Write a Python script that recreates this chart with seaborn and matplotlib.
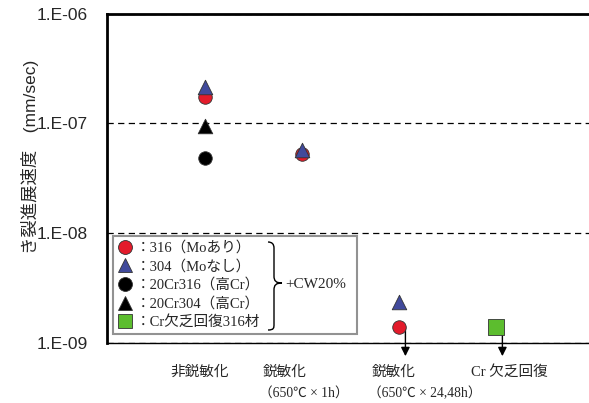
# Crack growth rate of cold-worked stainless steels vs. sensitization condition.
import numpy as np
import pandas as pd
import seaborn as sns
import matplotlib
matplotlib.use('Agg')
import matplotlib.pyplot as plt
from matplotlib.lines import Line2D
from matplotlib.path import Path
from matplotlib.patches import PathPatch
import matplotlib.transforms as mtransforms

sns.set_theme(style="white")
plt.rcParams['font.family'] = ['Liberation Sans', 'Noto Sans CJK JP']

# ---- data ----
categories = ["非鋭敏化", "鋭敏化1h", "鋭敏化24,48h", "Cr欠乏回復"]
label_top = ["非鋭敏化", "鋭敏化", "鋭敏化", "Cr 欠乏回復"]
label_sub = ["", "（650℃ × 1h）", "（650℃ × 24,48h）", ""]

rate_316 = [1.72e-7, 5.3e-8, 1.4e-9, np.nan]
rate_304 = [2.12e-7, 5.7e-8, 2.36e-9, np.nan]
rate_20cr316 = [4.8e-8, np.nan, np.nan, np.nan]
rate_20cr304 = [9.4e-8, np.nan, np.nan, np.nan]
rate_recovered = [np.nan, np.nan, np.nan, 1.4e-9]

# points that are upper bounds (drawn with a downward arrow)
upper_bounds = [("316", 2), ("Cr欠乏回復316材", 3)]

series = {
    "316": rate_316,
    "20Cr316": rate_20cr316,
    "304": rate_304,
    "20Cr304": rate_20cr304,
    "Cr欠乏回復316材": rate_recovered,
}
legend_order = ["316", "304", "20Cr316", "20Cr304", "Cr欠乏回復316材"]
legend_text = ["：316（Moあり）", "：304（Moなし）", "：20Cr316（高Cr）",
               "：20Cr304（高Cr）", "：Cr欠乏回復316材"]

colors = {"316": "#e31b2b", "304": "#414a9c", "20Cr316": "black",
          "20Cr304": "black", "Cr欠乏回復316材": "#5cbd2e"}
markers = {"316": "o", "304": "^", "20Cr316": "o",
           "20Cr304": "^", "Cr欠乏回復316材": "s"}
sizes = {"316": 95, "304": 110, "20Cr316": 95, "20Cr304": 110,
         "Cr欠乏回復316材": 120}

rows = []
for name, vals in series.items():
    for i, v in enumerate(vals):
        if not np.isnan(v):
            rows.append({"pos": i, "rate": v, "series": name})
df = pd.DataFrame(rows)

fig = plt.figure(figsize=(5.89, 4.03), dpi=100)
ax = fig.add_axes([107 / 589, 1 - 343 / 403, 482 / 589, 329.5 / 403])

for name in series:
    sub = df[df["series"] == name]
    sns.scatterplot(data=sub, x="pos", y="rate", ax=ax, color=colors[name],
                    marker=markers[name], s=sizes[name], edgecolor="#333333",
                    linewidth=0.6, legend=False, zorder=3, clip_on=False)

ax.set_yscale("log")
ax.set_ylim(1e-9, 1e-6)
ax.set_xlim(-1.01, 3.96)
ax.set_yticks([1e-9, 1e-8, 1e-7, 1e-6])
ax.set_yticklabels(["1.E-09", "1.E-08", "1.E-07", "1.E-06"], fontsize=12.5)
ax.yaxis.set_minor_locator(matplotlib.ticker.NullLocator())
ax.tick_params(axis="y", length=0, pad=14)
ax.set_xticks(range(len(categories)))
ax.set_xticklabels([""] * len(categories))
ax.tick_params(axis="x", direction="in", length=4, width=0.8, color="black")
ax.set_xlabel("")
ax.set_ylabel("")

ax.yaxis.grid(True, which="major", color="black", linestyle=(0, (5, 3.5)),
              linewidth=0.9)
ax.set_axisbelow(True)

for side in ["left", "top"]:
    ax.spines[side].set_color("black")
    ax.spines[side].set_linewidth(2)
ax.spines["bottom"].set_color("black")
ax.spines["bottom"].set_linewidth(1)
ax.spines["right"].set_visible(False)

# category labels under the axis
trans = mtransforms.blended_transform_factory(ax.transData, ax.transAxes)
label_x = [-0.05, 0.6, 1.72, 3.14]
label_ha = ["center", "left", "left", "center"]
jp_serif = ['Liberation Serif', 'Noto Sans CJK JP']
for i in range(len(categories)):
    ax.text(label_x[i], -0.088, label_top[i], transform=trans, ha=label_ha[i],
            va="center", fontsize=10.5, family=jp_serif)
    if label_sub[i]:
        ax.text(label_x[i] - 0.04, -0.152, label_sub[i], transform=trans,
                ha=label_ha[i], va="center", fontsize=9.8, family=jp_serif)

# downward arrows for upper-bound points
for name, i in upper_bounds:
    v = series[name][i]
    ax.annotate("", xy=(i + 0.067, -0.04), xycoords=trans,
                xytext=(i + 0.067, v), textcoords="data",
                arrowprops=dict(arrowstyle="-|>", color="black", lw=1,
                                mutation_scale=13, shrinkA=0, shrinkB=0),
                annotation_clip=False, zorder=2)

# legend
handles = [Line2D([], [], linestyle="none", marker=markers[n],
                  markerfacecolor=colors[n], markeredgecolor="#333333",
                  markeredgewidth=0.6, markersize=10) for n in legend_order]
leg = ax.legend(handles, legend_text, loc="upper left",
                bbox_to_anchor=(0.0124, 0.0, 0.506, 0.325), mode="expand",
                borderaxespad=0, frameon=True, fancybox=False,
                handlelength=1.0, handletextpad=0.25, labelspacing=0.33,
                borderpad=0.33,
                prop={"family": jp_serif, "size": 10.5})
leg.get_frame().set_edgecolor("#777777")
leg.get_frame().set_linewidth(1.5)

# brace + CW20%
def px(x, y):
    return (x / 589, 1 - y / 403)

verts = [px(268, 242), px(274, 242), px(274, 248), px(274, 252),
         px(274, 276),
         px(274, 281), px(276, 283), px(282, 283),
         px(276, 283), px(274, 285), px(274, 290),
         px(274, 324),
         px(274, 328), px(274, 330), px(268, 330)]
codes = [Path.MOVETO, Path.CURVE3, Path.CURVE3, Path.LINETO, Path.LINETO,
         Path.CURVE4, Path.CURVE4, Path.CURVE4,
         Path.CURVE4, Path.CURVE4, Path.CURVE4,
         Path.LINETO,
         Path.CURVE4, Path.CURVE4, Path.CURVE4]
brace = PathPatch(Path(verts, codes), transform=fig.transFigure,
                  facecolor="none", edgecolor="black", lw=1.0, zorder=10)
fig.patches.append(brace)
fig.text(285 / 589, 1 - 284 / 403, "+CW20%", ha="left", va="center",
         fontsize=11, family=jp_serif, zorder=10)

fig.text(30 / 589, 1 - 157 / 403, "き裂進展速度　(mm/sec)", rotation=90,
         ha="center", va="center", fontsize=12.5,
         family=['Liberation Sans', 'Noto Sans CJK JP'])

plt.savefig("out.png", dpi=100)
